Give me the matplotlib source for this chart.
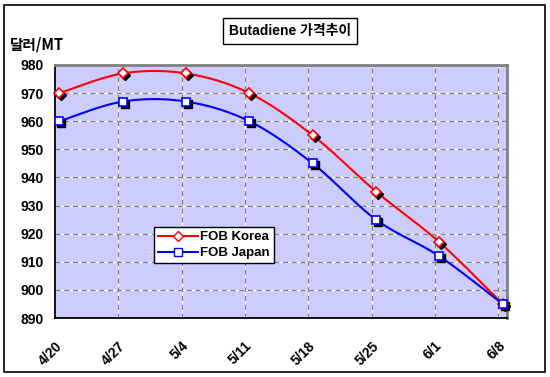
import matplotlib
matplotlib.use("Agg")
import matplotlib.pyplot as plt
import matplotlib.transforms as mtransforms
from matplotlib.patches import Rectangle
import numpy as np

dates = ["4/20", "4/27", "5/4", "5/11", "5/18", "5/25", "6/1", "6/8"]
fob_korea = [970, 977, 977, 970, 955, 935, 917, 895]
fob_japan = [960, 967, 967, 960, 945, 925, 912, 895]
yticks = [890, 900, 910, 920, 930, 940, 950, 960, 970, 980]

plt.rcParams['font.family'] = ['Liberation Sans', 'Noto Sans CJK KR', 'DejaVu Sans']

W, H = 550, 377
fig = plt.figure(figsize=(W / 100, H / 100), dpi=100)
fig.patch.set_facecolor('white')

# figure border
fig.patches.append(Rectangle((4 / W, 1 - 372 / H), 541 / W, 367 / H, transform=fig.transFigure,
                             fill=False, edgecolor='black', linewidth=1.2, zorder=0))

left, right, top, bottom = 55, 507, 65, 318
ax = fig.add_axes([left / W, 1 - bottom / H, (right - left) / W, (bottom - top) / H])
ax.set_facecolor('#CCCCFF')

x_off = 0.07
xs = np.arange(len(dates)) + x_off


def smooth(x, y, n=30):
    x = np.asarray(x, float)
    y = np.asarray(y, float)
    px = np.concatenate([[x[0]], x, [x[-1]]])
    py = np.concatenate([[y[0]], y, [y[-1]]])
    outx, outy = [], []
    for i in range(1, len(px) - 2):
        p0 = np.array([px[i - 1], py[i - 1]])
        p1 = np.array([px[i], py[i]])
        p2 = np.array([px[i + 1], py[i + 1]])
        p3 = np.array([px[i + 2], py[i + 2]])
        c1 = p1 + (p2 - p0) / 6
        c2 = p2 - (p3 - p1) / 6
        t = np.linspace(0, 1, n)[:, None]
        b = ((1 - t) ** 3) * p1 + 3 * ((1 - t) ** 2) * t * c1 + 3 * (1 - t) * t ** 2 * c2 + t ** 3 * p2
        outx.extend(b[:, 0])
        outy.extend(b[:, 1])
    return outx, outy


ax.set_xlim(0, 7.14)
ax.set_ylim(890, 980)

# grid
for yv in yticks[1:-1]:
    ax.axhline(yv, color='white', lw=0.9, zorder=1)
    ax.axhline(yv, color='#808080', lw=0.9, ls=(0, (4, 3)), zorder=1.1)
for i in range(1, len(dates)):
    ax.axvline(i, color='white', lw=0.9, zorder=1)
    ax.axvline(i, color='#808080', lw=0.9, ls=(0, (4, 3)), zorder=1.1)

shadow = mtransforms.offset_copy(ax.transData, fig=fig, x=2, y=-2, units='dots')

series = [(fob_korea, '#FF0000', 'D', 5.5, 'FOB Korea'),
          (fob_japan, '#0000FF', 's', 6.3, 'FOB Japan')]
handles = []
for vals, col, mk, ms, lab in series:
    sx, sy = smooth(xs, vals)
    ax.plot(sx, sy, color=col, lw=1.5, zorder=3, clip_on=False)
    ax.plot(xs, vals, ls='none', marker=mk, ms=ms, color='black', zorder=3.5,
            transform=shadow, clip_on=False)
    ax.plot(xs, vals, ls='none', marker=mk, ms=ms, mfc='white', mec=col, mew=1.2,
            zorder=4, clip_on=False)
    h, = ax.plot([], [], color=col, lw=1.5, marker=mk, ms=ms * 0.9, mfc='white', mec=col,
                 mew=1.0, label=lab)
    handles.append(h)

ax.set_xticks(range(len(dates)))
ax.set_xticklabels(dates, rotation=45, ha='right', rotation_mode='anchor',
                   fontsize=10, fontweight='bold')
ax.set_yticks(yticks)
ax.set_yticklabels([str(v) for v in yticks], fontsize=10, fontweight='bold')
ax.tick_params(axis='both', length=0)
ax.tick_params(axis='y', pad=8)
ax.tick_params(axis='x', pad=15)

for s in ['left', 'bottom']:
    ax.spines[s].set_color('black')
    ax.spines[s].set_linewidth(1.3)
for s in ['top', 'right']:
    ax.spines[s].set_color('#808080')
    ax.spines[s].set_linewidth(2)

leg = ax.legend(handles=handles, loc='upper left',
                bbox_to_anchor=((154 - left) / (right - left), (bottom - 227) / (bottom - top)),
                frameon=True, fancybox=False, edgecolor='black', facecolor='white',
                framealpha=1, prop={'weight': 'bold', 'size': 9.5}, handlelength=3.0,
                handletextpad=0.2, borderpad=0.3, labelspacing=0.3, borderaxespad=0)
leg.get_frame().set_linewidth(1.0)
leg.set_zorder(10)

fig.text(290 / W, 1 - 31 / H, "Butadiene 가격추이", ha='center', va='center',
         fontsize=10, fontweight='bold',
         family=['Liberation Sans', 'Noto Sans CJK KR'],
         bbox=dict(boxstyle='square,pad=0.45', facecolor='white', edgecolor='black', lw=1.0))
fig.text(10 / W, 1 - 45 / H, "달러/MT", ha='left', va='center', fontsize=10.5, fontweight='bold',
         family=['Noto Sans CJK KR', 'Liberation Sans'])

fig.savefig("out.png", dpi=100)
